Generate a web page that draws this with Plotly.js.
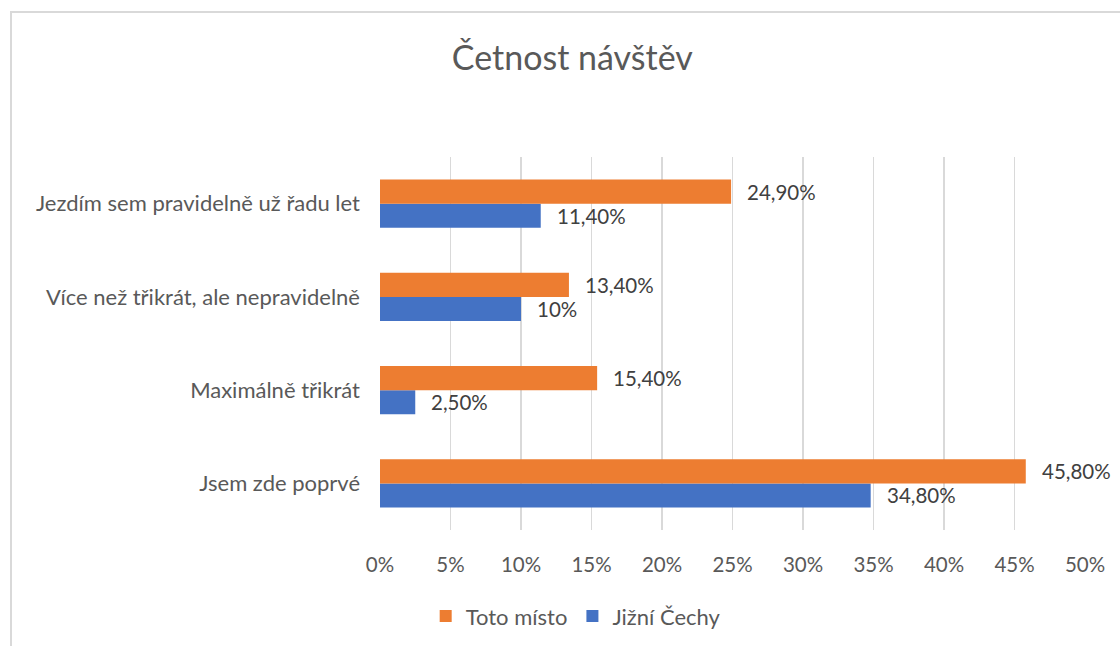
<!DOCTYPE html>
<html>
<head>
<meta charset="utf-8">
<script src="https://cdn.plot.ly/plotly-3.0.1.min.js"></script>
<style>
html,body{margin:0;padding:0;width:1120px;height:646px;overflow:hidden;background:#fff;}
#frame{position:absolute;left:10px;top:11px;width:1200px;height:800px;border:2px solid #d9d9d9;box-sizing:border-box;}
#chart{position:absolute;left:0;top:0;width:1120px;height:646px;}
</style>
</head>
<body>
<div id="frame"></div>
<div id="chart"></div>
<script>
const categories = ['Jsem zde poprvé', 'Maximálně třikrát', 'Více než třikrát, ale nepravidelně', 'Jezdím sem pravidelně už řadu let'];
const totoMisto = [45.8, 15.4, 13.4, 24.9];
const totoMistoLabels = ['45,80%', '15,40%', '13,40%', '24,90%'];
const jizniCechy = [34.8, 2.5, 10, 11.4];
const jizniCechyLabels = ['34,80%', '2,50%', '10%', '11,40%'];
const tickVals = [0, 5, 10, 15, 20, 25, 30, 35, 40, 45, 50];
const tickText = ['0%', '5%', '10%', '15%', '20%', '25%', '30%', '35%', '40%', '45%', '50%'];

const FONT = 'Lato, "Open Sans", sans-serif';

const traces = [
  {type:'bar', orientation:'h', name:'Jižní Čechy', y:categories, x:jizniCechy,
   marker:{color:'#4472c4'}, hoverinfo:'none'},
  {type:'bar', orientation:'h', name:'Toto místo', y:categories, x:totoMisto,
   marker:{color:'#ed7d31'}, hoverinfo:'none'}
];

const annotations = [];
categories.forEach((c, i) => {
  annotations.push({x:totoMisto[i], y:c, xref:'x', yref:'y', text:totoMistoLabels[i], showarrow:false,
    xanchor:'left', yanchor:'middle', xshift:14, yshift:12, font:{family:FONT, size:20.5, color:'#404040'}});
  annotations.push({x:jizniCechy[i], y:c, xref:'x', yref:'y', text:jizniCechyLabels[i], showarrow:false,
    xanchor:'left', yanchor:'middle', xshift:14, yshift:-12, font:{family:FONT, size:20.5, color:'#404040'}});
});

const layout = {
  width:1120, height:646,
  paper_bgcolor:'rgba(0,0,0,0)', plot_bgcolor:'rgba(0,0,0,0)',
  margin:{l:380, r:35, t:157, b:116},
  font:{family:FONT, size:20.5, color:'#595959'},
  title:{text:'Četnost návštěv', x:0.511, xref:'container', xanchor:'center', y:0.91, yref:'container', yanchor:'middle',
         font:{family:FONT, size:34, color:'#595959'}},
  barmode:'group', bargap:0.485, bargroupgap:0,
  xaxis:{range:[0,50], tickvals:tickVals, ticktext:tickText, showgrid:true, gridcolor:'#d9d9d9', gridwidth:1.5,
         zeroline:false, showline:false, ticks:'', ticklen:0, ticklabelstandoff:20, tickfont:{size:20.5, color:'#595959'}, fixedrange:true},
  yaxis:{type:'category', categoryorder:'array', categoryarray:categories, showgrid:false, zeroline:false,
         showline:false, ticks:'', ticklabelstandoff:19, tickfont:{size:22, color:'#595959'}, fixedrange:true},
  legend:{orientation:'h', traceorder:'reversed', x:0.514, xref:'container', xanchor:'center', y:0.046, yref:'container', yanchor:'middle',
          font:{size:22, color:'#595959'}, itemwidth:20},
  annotations:annotations,
  showlegend:true
};

Plotly.newPlot('chart', traces, layout, {displayModeBar:false, staticPlot:true});
</script>
</body>
</html>
